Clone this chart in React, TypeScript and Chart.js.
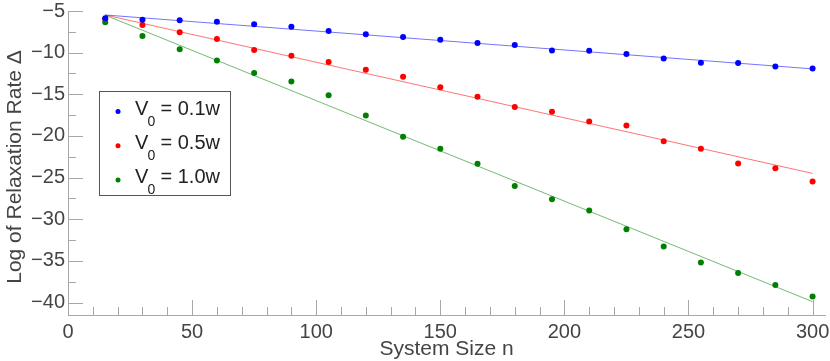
import React, { useEffect, useRef } from 'react';
import { Chart, registerables } from 'chart.js';

Chart.register(...registerables);

const systemSizes = [15, 30, 45, 60, 75, 90, 105, 120, 135, 150, 165, 180, 195, 210, 225, 240, 255, 270, 285, 300];
const rateV01 = [-5.88, -6.04, -6.12, -6.28, -6.6, -6.88, -7.4, -7.8, -8.13, -8.45, -8.85, -9.09, -9.73, -9.77, -10.17, -10.69, -11.21, -11.25, -11.65, -11.89];
const rateV05 = [-5.96, -6.68, -7.56, -8.37, -9.69, -10.37, -11.13, -12.05, -12.9, -14.17, -15.3, -16.54, -17.1, -18.26, -18.74, -20.63, -21.55, -23.3, -23.87, -25.47];
const rateV10 = [-6.36, -8.0, -9.6, -10.93, -12.45, -13.45, -15.13, -17.54, -20.1, -21.55, -23.35, -26.0, -27.6, -28.96, -31.2, -33.28, -35.2, -36.45, -37.9, -39.29];

const fitSizes = [15, 300];
const fitV01 = [-5.48, -11.95];
const fitV05 = [-5.48, -24.5];
const fitV10 = [-5.5, -39.9];

const legendValues = ['0.1w', '0.5w', '1.0w'];
const yTitle = 'Log of Relaxation Rate \u0394';
const xTitle = 'System Size n';

const xMajorTicks = [0, 50, 100, 150, 200, 250, 300];
const xMinorTicks = [10, 20, 30, 40, 60, 70, 80, 90, 110, 120, 130, 140, 160, 170, 180, 190, 210, 220, 230, 240, 260, 270, 280, 290];
const yMajorTicks = [-40, -35, -30, -25, -20, -15, -10, -5];
const yMinorTicks = [-37.5, -32.5, -27.5, -22.5, -17.5, -12.5, -7.5];

const FONT = '"Liberation Sans", Arial, Helvetica, sans-serif';
const TEXT = '#444444';
const AXIS = '#a8a8a8';

const pointColors = ['#0000ff', '#ff0000', '#008000'];
const lineColors = ['rgba(0,0,255,0.55)', 'rgba(255,0,0,0.55)', 'rgba(0,128,0,0.55)'];

const pts = (xs: number[], ys: number[]) => xs.map((x, i) => ({ x, y: ys[i] }));

const decorPlugin = {
  id: 'decor',
  beforeDatasetsDraw(chart: any) {
    const { ctx, chartArea, scales } = chart;
    const x = scales.x;
    const y = scales.y;
    ctx.save();
    ctx.strokeStyle = AXIS;
    ctx.lineWidth = 1;
    const bottom = chartArea.bottom;
    const left = chartArea.left;
    const drawX = (v: number, len: number) => {
      const px = Math.round(x.getPixelForValue(v)) + 0.5;
      ctx.beginPath();
      ctx.moveTo(px, bottom);
      ctx.lineTo(px, bottom - len);
      ctx.stroke();
    };
    const drawY = (v: number, len: number) => {
      const py = Math.round(y.getPixelForValue(v)) + 0.5;
      ctx.beginPath();
      ctx.moveTo(left, py);
      ctx.lineTo(left + len, py);
      ctx.stroke();
    };
    xMajorTicks.forEach((v) => drawX(v, 15));
    xMinorTicks.forEach((v) => drawX(v, 8));
    yMajorTicks.forEach((v) => drawY(v, 15));
    yMinorTicks.forEach((v) => drawY(v, 8));

    // y axis title (rotated)
    ctx.fillStyle = TEXT;
    ctx.font = `21px ${FONT}`;
    ctx.textAlign = 'center';
    ctx.textBaseline = 'middle';
    ctx.save();
    ctx.translate(15, (chartArea.top + chartArea.bottom) / 2 + 4);
    ctx.rotate(-Math.PI / 2);
    ctx.fillText(yTitle, 0, 0);
    ctx.restore();
    ctx.restore();
  },
  afterDatasetsDraw(chart: any) {
    const { ctx, chartArea } = chart;
    const bx = Math.round(chartArea.left + 31) + 0.5;
    const by = Math.round(chartArea.top + 80) + 0.5;
    const bw = 131;
    const bh = 104;
    ctx.save();
    ctx.fillStyle = '#ffffff';
    ctx.fillRect(bx, by, bw, bh);
    ctx.strokeStyle = '#555555';
    ctx.lineWidth = 1;
    ctx.strokeRect(bx, by, bw, bh);
    legendValues.forEach((val, i) => {
      const oy = by + i * 34.2;
      ctx.fillStyle = pointColors[i];
      ctx.beginPath();
      ctx.arc(bx + 18.5, oy + 20, 2.5, 0, Math.PI * 2);
      ctx.fill();
      ctx.fillStyle = '#222222';
      ctx.textBaseline = 'alphabetic';
      ctx.textAlign = 'left';
      ctx.font = `20px ${FONT}`;
      ctx.fillText('V', bx + 35.5, oy + 23.5);
      ctx.font = `14px ${FONT}`;
      ctx.fillText('0', bx + 48, oy + 34);
      ctx.font = `20px ${FONT}`;
      ctx.fillText('= ' + val, bx + 61, oy + 23.5);
    });
    ctx.restore();
  },
};

export default function App() {
  const ref = useRef<HTMLCanvasElement | null>(null);
  useEffect(() => {
    document.body.style.margin = '0';
    if (!ref.current) return;
    const chart = new Chart(ref.current, {
      type: 'scatter',
      data: {
        datasets: [
          { label: 'V0 = 0.1w', data: pts(systemSizes, rateV01), backgroundColor: pointColors[0], borderWidth: 0, pointRadius: 3, order: 1 },
          { label: 'V0 = 0.5w', data: pts(systemSizes, rateV05), backgroundColor: pointColors[1], borderWidth: 0, pointRadius: 3, order: 1 },
          { label: 'V0 = 1.0w', data: pts(systemSizes, rateV10), backgroundColor: pointColors[2], borderWidth: 0, pointRadius: 3, order: 1 },
          { type: 'line', label: 'fit 0.1w', data: pts(fitSizes, fitV01), borderColor: lineColors[0], borderWidth: 1, pointRadius: 0, showLine: true, fill: false, order: 2 },
          { type: 'line', label: 'fit 0.5w', data: pts(fitSizes, fitV05), borderColor: lineColors[1], borderWidth: 1, pointRadius: 0, showLine: true, fill: false, order: 2 },
          { type: 'line', label: 'fit 1.0w', data: pts(fitSizes, fitV10), borderColor: lineColors[2], borderWidth: 1, pointRadius: 0, showLine: true, fill: false, order: 2 },
        ] as any,
      },
      options: {
        responsive: false,
        animation: false,
        layout: { padding: { top: 11, right: 5, left: 0, bottom: 0 } },
        plugins: { legend: { display: false }, tooltip: { enabled: false } },
        scales: {
          x: {
            type: 'linear',
            min: 0,
            max: 305,
            grid: { display: false, drawTicks: false },
            border: { display: true, color: AXIS, width: 1 },
            afterBuildTicks: (scale: any) => {
              scale.ticks = xMajorTicks.map((v) => ({ value: v }));
            },
            afterFit: (scale: any) => {
              scale.height = 46;
              scale.paddingLeft = 0;
              scale.paddingRight = 0;
            },
            ticks: { color: TEXT, font: { family: FONT, size: 20 }, padding: 5, maxRotation: 0, autoSkip: false },
            title: { display: true, text: xTitle, color: TEXT, font: { family: FONT, size: 21, lineHeight: 1 }, padding: { top: 0, bottom: 1 } },
          },
          y: {
            type: 'linear',
            min: -41.5,
            max: -5,
            grid: { display: false, drawTicks: false },
            border: { display: true, color: AXIS, width: 1 },
            afterBuildTicks: (scale: any) => {
              scale.ticks = yMajorTicks.map((v) => ({ value: v }));
            },
            afterFit: (scale: any) => {
              scale.width = 68;
              scale.paddingTop = 0;
              scale.paddingBottom = 0;
            },
            ticks: {
              color: TEXT,
              font: { family: FONT, size: 20 },
              padding: 3,
              autoSkip: false,
              callback: (v: any) => String(v).replace('-', '\u2212'),
            },
            title: { display: false },
          },
        },
      } as any,
      plugins: [decorPlugin],
    });
    return () => chart.destroy();
  }, []);
  return (
    <div style={{ width: 830, height: 361 }}>
      <canvas ref={ref} width={830} height={361} style={{ display: 'block' }} />
    </div>
  );
}
